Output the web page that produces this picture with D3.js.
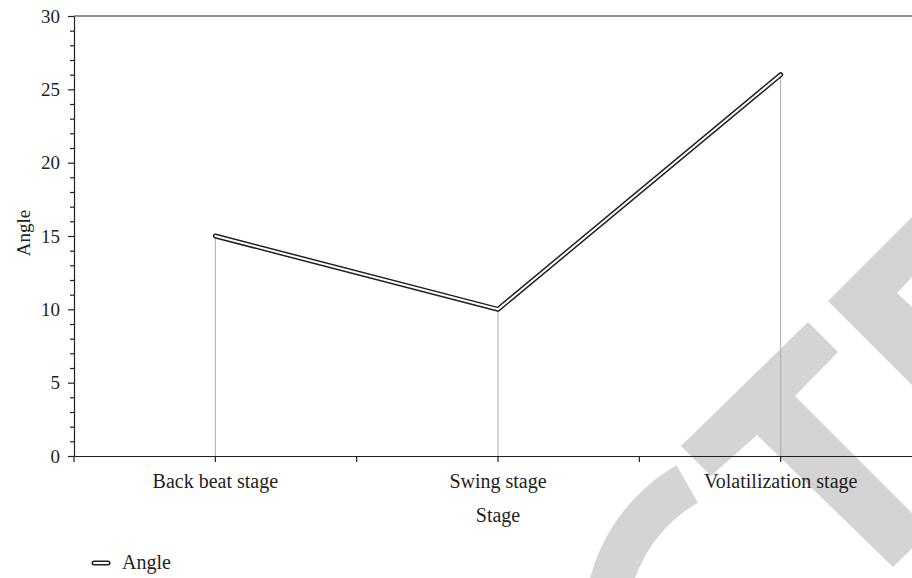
<!DOCTYPE html>
<html>
<head>
<meta charset="utf-8">
<script src="https://cdn.jsdelivr.net/npm/d3@7"></script>
<style>
  body { margin: 0; background: #fff; }
</style>
</head>
<body>
<div id="chart"></div>
<script>
// data
const stages = ["Back beat stage", "Swing stage", "Volatilization stage"];
const angle = [15, 10, 26];
const yMajorTicks = [0, 5, 10, 15, 20, 25, 30];
const yMinorTicks = d3.range(0, 31).filter(d => d % 5 !== 0);

const width = 912, height = 578;
const margin = {top: 16, left: 74, bottom: 122};
const serif = '"Liberation Serif", "Times New Roman", serif';

const svg = d3.select('#chart').append('svg')
    .attr('width', width)
    .attr('height', height)
    .style('font-family', serif);

// retraction watermark (grey bands behind the chart)
const wm = svg.append('g').style('fill', '#d4d4d4');
wm.append('path')
    .attr('transform', 'translate(768,625)')
    .attr('d', d3.arc().innerRadius(141).outerRadius(184).startAngle(-2.2).endAngle(-0.52)());
wm.append('polygon')
    .attr('points', '681,446 808,322 838,352 795,396 930,531 893,567 757,435 711,476');
wm.append('polygon')
    .attr('points', '828,301 913,216 913,276 897,293 913,308 913,386');

const xScale = d3.scaleBand()
    .domain(stages)
    .range([margin.left, 922])
    .padding(0);

const yScale = d3.scaleLinear()
    .domain([0, 30])
    .range([height - margin.bottom, margin.top]);

const y0 = yScale(0);

//drop lines
svg.selectAll('.drop')
    .data(stages)
    .enter()
    .append('line')
    .attr('class', 'drop')
    .attr('x1', d => xScale(d) + xScale.bandwidth() / 2)
    .attr('x2', d => xScale(d) + xScale.bandwidth() / 2)
    .attr('y1', (d, i) => yScale(angle[i]))
    .attr('y2', y0)
    .style('stroke', '#adadad')
    .style('stroke-width', 1);

//top frame line
svg.append('line')
    .attr('x1', margin.left)
    .attr('x2', 922)
    .attr('y1', yScale(30))
    .attr('y2', yScale(30))
    .style('stroke', '#231f20')
    .style('stroke-width', 1.2);

//x axis
const xAxis = svg.append('g')
    .attr('transform', 'translate(0,' + y0 + ')')
    .call(d3.axisBottom(xScale).tickSize(6).tickSizeOuter(0).tickPadding(12));

xAxis.selectAll('.tick')
    .append('line')
    .attr('x1', d => -xScale.bandwidth() / 2)
    .attr('x2', d => -xScale.bandwidth() / 2)
    .attr('y2', 6)
    .attr('stroke', 'currentColor');

//y axis
const yAxis = svg.append('g')
    .attr('transform', 'translate(' + margin.left + ',0)')
    .call(d3.axisLeft(yScale).tickValues(yMajorTicks).tickSize(6).tickSizeOuter(0).tickPadding(8));

svg.append('g')
    .attr('transform', 'translate(' + margin.left + ',0)')
    .call(d3.axisLeft(yScale).tickValues(yMinorTicks).tickSize(4).tickFormat(''))
    .select('.domain').remove();

svg.selectAll('.domain, .tick line')
    .style('stroke', '#231f20')
    .style('stroke-width', 1.2);

svg.selectAll('g').attr('font-family', serif);

xAxis.selectAll('text').style('font-size', '20px').style('font-family', serif).style('fill', '#231f20');
yAxis.selectAll('text').style('font-size', '19px').style('font-family', serif).style('fill', '#231f20');

//axis titles
svg.append('text')
    .attr('x', (xScale.range()[0] + xScale.range()[1]) / 2)
    .attr('y', 522)
    .style('text-anchor', 'middle')
    .style('font-family', serif)
    .style('font-size', '20px')
    .style('fill', '#231f20')
    .text('Stage');

svg.append('text')
    .attr('transform', 'translate(30,' + (yScale(15) - 3) + ') rotate(-90)')
    .style('text-anchor', 'middle')
    .style('font-family', serif)
    .style('font-size', '19px')
    .style('fill', '#231f20')
    .text('Angle');

//line
const line = d3.line()
    .x((d, i) => xScale(stages[i]) + xScale.bandwidth() / 2)
    .y(d => yScale(d));

svg.append('path')
    .datum(angle)
    .attr('d', line)
    .style('fill', 'none')
    .style('stroke', '#231f20')
    .style('stroke-width', 5)
    .style('stroke-linejoin', 'round')
    .style('stroke-linecap', 'round');

svg.append('path')
    .datum(angle)
    .attr('d', line)
    .style('fill', 'none')
    .style('stroke', '#fff')
    .style('stroke-width', 2)
    .style('stroke-linejoin', 'round')
    .style('stroke-linecap', 'round');

//legend
const legend = svg.append('g').attr('transform', 'translate(94,563)');
legend.append('line')
    .attr('x1', 0).attr('x2', 14)
    .style('stroke', '#231f20')
    .style('stroke-width', 5)
    .style('stroke-linecap', 'round');
legend.append('line')
    .attr('x1', 0).attr('x2', 14)
    .style('stroke', '#fff')
    .style('stroke-width', 2)
    .style('stroke-linecap', 'round');
legend.append('text')
    .attr('x', 28)
    .attr('y', 6)
    .style('font-family', serif)
    .style('font-size', '20px')
    .style('fill', '#231f20')
    .text('Angle');
</script>
</body>
</html>
